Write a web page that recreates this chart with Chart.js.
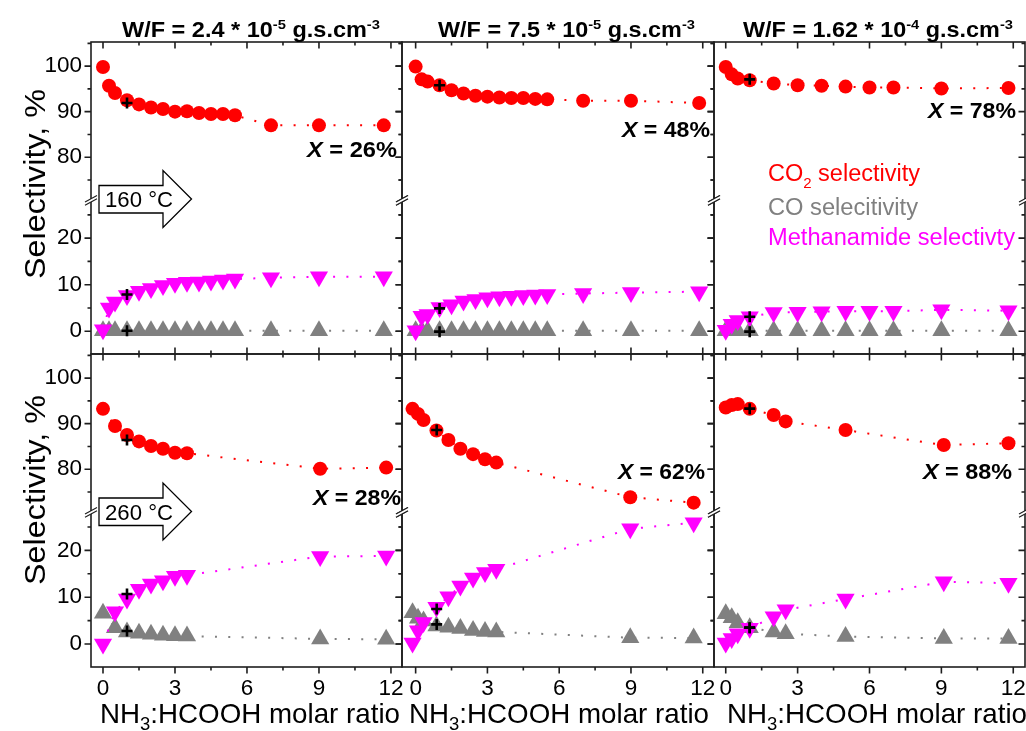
<!DOCTYPE html>
<html><head><meta charset="utf-8">
<script src="https://cdn.jsdelivr.net/npm/chart.js@4.4.1/dist/chart.umd.min.js"></script>
<style>
html,body{margin:0;padding:0;background:#fff;}
#wrap{position:relative;width:1026px;height:731px;overflow:hidden;background:#fff;}
#wrap canvas{position:absolute;}
#ov{position:absolute;left:0;top:0;}
</style></head><body><div id="wrap">
<canvas id="c00"></canvas><canvas id="c01"></canvas><canvas id="c02"></canvas>
<canvas id="c10"></canvas><canvas id="c11"></canvas><canvas id="c12"></canvas>
<svg id="ov" width="1026" height="731" font-family="'Liberation Sans', Arial, sans-serif">
  <text x="122" y="36.5" font-size="21.5" font-weight="bold" textLength="258" lengthAdjust="spacingAndGlyphs">W/F = 2.4 * 10<tspan font-size="13.5" dy="-8">-5</tspan><tspan dy="8"> g.s.cm</tspan><tspan font-size="13.5" dy="-8">-3</tspan></text>
  <text x="438" y="36.5" font-size="21.5" font-weight="bold" textLength="257" lengthAdjust="spacingAndGlyphs">W/F = 7.5 * 10<tspan font-size="13.5" dy="-8">-5</tspan><tspan dy="8"> g.s.cm</tspan><tspan font-size="13.5" dy="-8">-3</tspan></text>
  <text x="743" y="36.5" font-size="21.5" font-weight="bold" textLength="270" lengthAdjust="spacingAndGlyphs">W/F = 1.62 * 10<tspan font-size="13.5" dy="-8">-4</tspan><tspan dy="8"> g.s.cm</tspan><tspan font-size="13.5" dy="-8">-3</tspan></text>

  <text x="307" y="156.7" font-size="22" font-weight="bold" textLength="90" lengthAdjust="spacingAndGlyphs"><tspan font-style="italic">X</tspan> = 26%</text>
  <text x="622" y="136.7" font-size="22" font-weight="bold" textLength="88" lengthAdjust="spacingAndGlyphs"><tspan font-style="italic">X</tspan> = 48%</text>
  <text x="928" y="117.5" font-size="22" font-weight="bold" textLength="88" lengthAdjust="spacingAndGlyphs"><tspan font-style="italic">X</tspan> = 78%</text>
  <text x="313" y="504.5" font-size="22" font-weight="bold" textLength="88" lengthAdjust="spacingAndGlyphs"><tspan font-style="italic">X</tspan> = 28%</text>
  <text x="618" y="478.5" font-size="22" font-weight="bold" textLength="87" lengthAdjust="spacingAndGlyphs"><tspan font-style="italic">X</tspan> = 62%</text>
  <text x="923" y="478.5" font-size="22" font-weight="bold" textLength="89" lengthAdjust="spacingAndGlyphs"><tspan font-style="italic">X</tspan> = 88%</text>

  <text x="768" y="180.5" font-size="23.5" fill="#ff0000" textLength="152" lengthAdjust="spacingAndGlyphs">CO<tspan font-size="15" dy="7">2</tspan><tspan dy="-7"> selectivity</tspan></text>
  <text x="768" y="215" font-size="23.5" fill="#808080" textLength="150" lengthAdjust="spacingAndGlyphs">CO selecitivity</text>
  <text x="768" y="245" font-size="23.5" fill="#ff00ff" textLength="247" lengthAdjust="spacingAndGlyphs">Methanamide selectivty</text>

  <path d="M99,185.5 H163 V170.5 L191.5,199 L163,227.5 V213 H99 Z" fill="#fff" stroke="#000" stroke-width="1.3"/>
  <text x="105" y="207.3" font-size="22.5" textLength="68" lengthAdjust="spacingAndGlyphs">160 °C</text>
  <path d="M99,498 H163 V483 L191.5,511.5 L163,540 V525.5 H99 Z" fill="#fff" stroke="#000" stroke-width="1.3"/>
  <text x="105" y="519.8" font-size="22.5" textLength="68" lengthAdjust="spacingAndGlyphs">260 °C</text>

  <text transform="translate(44.5,184) rotate(-90)" text-anchor="middle" font-size="29.5" textLength="190" lengthAdjust="spacingAndGlyphs">Selectivity, %</text>
  <text transform="translate(44.5,490) rotate(-90)" text-anchor="middle" font-size="29.5" textLength="190" lengthAdjust="spacingAndGlyphs">Selectivity, %</text>

  <text x="100" y="722.5" font-size="28.5" textLength="300" lengthAdjust="spacingAndGlyphs">NH<tspan font-size="19" dy="7">3</tspan><tspan dy="-7">:HCOOH molar ratio</tspan></text>
  <text x="409" y="722.5" font-size="28.5" textLength="300" lengthAdjust="spacingAndGlyphs">NH<tspan font-size="19" dy="7">3</tspan><tspan dy="-7">:HCOOH molar ratio</tspan></text>
  <text x="727" y="722.5" font-size="28.5" textLength="300" lengthAdjust="spacingAndGlyphs">NH<tspan font-size="19" dy="7">3</tspan><tspan dy="-7">:HCOOH molar ratio</tspan></text>
</svg>
</div>
<script>
// ---- tick labels ----
const xTickVals = [0, 3, 6, 9, 12];
const yTickTop = [80, 90, 100];
const yTickBot = [0, 10, 20];

// ---- 160 °C, W/F = 2.4e-5 ----
const ratio160A = [0, 0.25, 0.5, 1, 1.5, 2, 2.5, 3, 3.5, 4, 4.5, 5, 5.5, 7, 9, 11.7];
const co2_160A  = [99.8, 95.7, 94.1, 92.5, 91.6, 90.9, 90.6, 90.0, 90.1, 89.7, 89.5, 89.5, 89.2, 87.0, 87.0, 87.0];
const co160A    = [0.1, 0.1, 0.1, 0.1, 0.1, 0.1, 0.1, 0.1, 0.1, 0.1, 0.1, 0.1, 0.1, 0.1, 0.1, 0.1];
const meth160A  = [0.3, 5.0, 6.3, 7.7, 8.6, 9.2, 9.8, 10.3, 10.5, 10.6, 10.8, 11.0, 11.2, 11.5, 11.7, 11.7];
// ---- 160 °C, W/F = 7.5e-5 ----
const ratio160B = [0, 0.25, 0.5, 1, 1.5, 2, 2.5, 3, 3.5, 4, 4.5, 5, 5.5, 7, 9, 11.85];
const co2_160B  = [99.9, 97.1, 96.6, 95.8, 94.7, 94.0, 93.5, 93.3, 93.1, 93.0, 93.0, 92.8, 92.7, 92.4, 92.4, 91.9];
const co160B    = [0.1, 0.1, 0.1, 0.1, 0.1, 0.1, 0.1, 0.1, 0.1, 0.1, 0.1, 0.1, 0.1, 0.1, 0.1, 0.1];
const meth160B  = [0.1, 3.2, 3.6, 5.1, 5.7, 6.5, 6.8, 7.2, 7.4, 7.5, 7.7, 7.8, 7.9, 8.1, 8.3, 8.5];
// ---- 160 °C, W/F = 1.62e-4 ----
const ratio160C = [0, 0.25, 0.5, 1, 2, 3, 4, 5, 6, 7, 9, 11.8];
const co2_160C  = [99.8, 98.2, 97.3, 96.9, 96.2, 95.8, 95.7, 95.5, 95.3, 95.3, 95.1, 95.2];
const co160C    = [0.1, 0.1, 0.1, 0.1, 0.1, 0.1, 0.1, 0.1, 0.1, 0.1, 0.1, 0.1];
const meth160C  = [0.2, 1.5, 2.3, 3.1, 4.0, 4.1, 4.2, 4.3, 4.3, 4.3, 4.6, 4.4];
// ---- 260 °C, W/F = 2.4e-5 ----
const ratio260A = [0, 0.5, 1, 1.5, 2, 2.5, 3, 3.5, 9.05, 11.8];
const co2_260A  = [93.25, 89.5, 87.5, 86.1, 85.1, 84.5, 83.6, 83.5, 80.1, 80.35];
const co260A    = [6.6, 3.5, 2.6, 2.3, 2.1, 1.9, 1.8, 1.7, 1.1, 1.0];
const meth260A  = [0, 6.9, 9.6, 11.7, 12.8, 13.5, 14.5, 14.7, 18.7, 18.8];
// ---- 260 °C, W/F = 7.5e-5 ----
const ratio260B = [-0.13, 0.1, 0.33, 0.87, 1.37, 1.87, 2.4, 2.9, 3.37, 8.97, 11.62];
const co2_260B  = [93.25, 92.15, 90.8, 88.5, 86.4, 84.5, 83.3, 82.2, 81.45, 73.85, 72.65];
const co260B    = [6.7, 5.5, 4.9, 3.85, 3.6, 3.3, 2.9, 2.7, 2.6, 1.35, 1.3];
const meth260B  = [0.2, 2.85, 4.6, 7.85, 10.1, 12.4, 14.1, 15.3, 16.0, 24.6, 25.9];
// ---- 260 °C, W/F = 1.62e-4 ----
const ratio260C = [0, 0.25, 0.5, 1, 2, 2.5, 5, 9.1, 11.8];
const co2_260C  = [93.55, 94.1, 94.3, 93.25, 91.9, 90.5, 88.6, 85.3, 85.7];
const co260C    = [6.45, 5.6, 4.55, 3.5, 2.6, 2.2, 1.6, 1.2, 1.2];
const meth260C  = [0.2, 1.2, 2.2, 3.35, 5.85, 7.3, 9.6, 13.3, 13.0];
// ---- repeated measurements ("+") per W/F column ----
const crossRatio160 = [1, 1, 1];
const crossCO2_160  = [91.9, 95.8, 97.1];
const crossCO160    = [0.1, -0.1, -0.1];
const crossMeth160  = [7.9, 4.9, 3.1];
const crossRatio260 = [1, 0.88, 1];
const crossCO2_260  = [86.4, 88.6, 93.3];
const crossCO260    = [2.8, 4.2, 3.5];
const crossMeth260  = [10.7, 7.5, 3.5];

// ---- layout ----
const cols = [{L:91, R:402, xmin:-0.5, xmax:12.46}, {L:402, R:714, xmin:-0.57, xmax:12.47}, {L:714, R:1025, xmin:-0.49, xmax:12.49}];
const rows = [{T:42, K:200, B:354}, {T:354, K:512, B:667}];
const ML = 100, MR = 20, MT = 20, MB = 45;
const RED = '#ff0000', GRAY = '#808080', MAG = '#ff00ff';
const tickFont = {family: "'Liberation Sans', Arial, sans-serif", size: 22.5};

const panels = [
  [[ratio160A, co2_160A, co160A, meth160A], [ratio160B, co2_160B, co160B, meth160B], [ratio160C, co2_160C, co160C, meth160C]],
  [[ratio260A, co2_260A, co260A, meth260A], [ratio260B, co2_260B, co260B, meth260B], [ratio260C, co2_260C, co260C, meth260C]]
];
const crosses = [
  [crossRatio160, crossCO2_160, crossCO160, crossMeth160],
  [crossRatio260, crossCO2_260, crossCO260, crossMeth260]
];

const pts = (xs, ys) => xs.map((x, i) => ({x, y: ys[i]}));

const framePlugin = {
  id: 'frame',
  afterDraw(chart) {
    const o = chart.options.plugins.frame;
    const {ctx, chartArea: a, scales} = chart;
    const sx = scales.x, yT = scales.yT, yB = scales.yB;
    const L = a.left, R = a.right, T = a.top, B = a.bottom;
    ctx.save();
    ctx.strokeStyle = '#1e1e1e';
    ctx.lineWidth = 1.6;
    ctx.strokeRect(L, T, R - L, B - T);
    const MAJ = 6.5, MIN = 3.5;
    ctx.beginPath();
    const seg = (x1, y1, x2, y2) => { ctx.moveTo(x1, y1); ctx.lineTo(x2, y2); };
    const bdir = o.row === 1 ? 1 : -1;
    xTickVals.forEach((v, i) => {
      const p = sx.getPixelForValue(v);
      seg(p, T, p, T + MAJ);
      seg(p, B, p, B + bdir * MAJ);
      if (i < xTickVals.length - 1) {
        const m = sx.getPixelForValue((v + xTickVals[i + 1]) / 2);
        seg(m, T, m, T + MIN);
        seg(m, B, m, B + bdir * MIN);
      }
    });
    [[yT, yTickTop], [yB, yTickBot]].forEach(([sc, vals]) => {
      const step = vals[1] - vals[0];
      vals.forEach(v => { const p = sc.getPixelForValue(v); seg(L, p, L - MAJ, p); seg(R, p, R - MAJ, p); });
      [vals[0] - step / 2, ...vals.map(v => v + step / 2)].forEach(v => {
        if (v < sc.min || v > sc.max) return;
        const p = sc.getPixelForValue(v); seg(L, p, L - MIN, p); seg(R, p, R - MIN, p);
      });
    });
    ctx.stroke();
    // axis break marks
    const by = yT.bottom;
    [L, R].forEach(ax => {
      ctx.fillStyle = '#fff';
      ctx.beginPath();
      ctx.moveTo(ax - 6, by + 2); ctx.lineTo(ax + 6, by - 4.5);
      ctx.lineTo(ax + 6, by - 1.3); ctx.lineTo(ax - 6, by + 5.2); ctx.closePath();
      ctx.fill();
      ctx.lineWidth = 1.1;
      ctx.beginPath();
      seg(ax - 6, by + 2, ax + 6, by - 4.5);
      seg(ax - 6, by + 5.2, ax + 6, by - 1.3);
      ctx.stroke();
    });
    ctx.restore();
  }
};

function series(data, axis, color, style, radius, rot) {
  return {
    data, yAxisID: axis, showLine: true, borderColor: color, backgroundColor: color,
    borderWidth: 2, borderDash: [2, 11.3], tension: 0,
    pointStyle: style, pointRadius: radius, pointHoverRadius: radius, rotation: rot || 0,
    pointBackgroundColor: color, pointBorderColor: color, pointBorderWidth: 0
  };
}
function crossSet(data, axis) {
  return {
    data, yAxisID: axis, showLine: false, pointStyle: 'cross', pointRadius: 5.5, pointHoverRadius: 5.5,
    pointBorderColor: '#000', pointBorderWidth: 2.6, borderColor: '#000', backgroundColor: '#000'
  };
}

for (let r = 0; r < 2; r++) {
  for (let c = 0; c < 3; c++) {
    const col = cols[c], row = rows[r];
    const cv = document.getElementById('c' + r + c);
    const w = (col.R - col.L) + ML + MR, h = (row.B - row.T) + MT + MB;
    cv.width = w; cv.height = h;
    cv.style.left = (col.L - ML) + 'px';
    cv.style.top = (row.T - MT) + 'px';
    const [xs, co2, co, meth] = panels[r][c];
    const cr = crosses[r];
    const yCommon = (vals, showLbl, wgt, sw, mn, mx) => ({
      type: 'linear', position: 'left', stack: 'sel', stackWeight: sw, weight: wgt,
      min: mn, max: mx,
      grid: {display: false, drawTicks: false}, border: {display: false},
      afterBuildTicks: s => { s.ticks = vals.map(v => ({value: v})); },
      afterFit: s => { s.width = ML; s.paddingTop = 0; s.paddingBottom = 0; },
      ticks: {display: showLbl, font: tickFont, color: '#000', padding: 9}
    });
    new Chart(cv, {
      type: 'line',
      data: {
        datasets: [
          crossSet([{x: cr[0][c], y: cr[1][c]}], 'yT'),
          crossSet([{x: cr[0][c], y: cr[3][c]}, {x: cr[0][c], y: cr[2][c]}], 'yB'),
          series(pts(xs, co2), 'yT', RED, 'circle', 7),
          series(pts(xs, meth), 'yB', MAG, 'triangle', 10.5, 180),
          series(pts(xs, co), 'yB', GRAY, 'triangle', 10.5, 0)
        ]
      },
      options: {
        responsive: false, animation: false, events: [],
        layout: {padding: {left: 0, right: MR, top: MT, bottom: 0}, autoPadding: false},
        plugins: {legend: {display: false}, tooltip: {enabled: false}, frame: {row: r, col: c}},
        scales: {
          x: {
            type: 'linear', position: 'bottom', min: col.xmin, max: col.xmax,
            grid: {display: false, drawTicks: false}, border: {display: false},
            afterBuildTicks: s => { s.ticks = xTickVals.map(v => ({value: v})); },
            afterFit: s => { s.height = MB; s.paddingLeft = 0; s.paddingRight = 0; },
            ticks: {display: r === 1, font: tickFont, color: '#000', padding: 8, maxRotation: 0, autoSkip: false}
          },
          yT: yCommon(yTickTop, c === 0, 1, row.K - row.T, 70.6, 105.3),
          yB: yCommon(yTickBot, c === 0, 0, row.B - row.K, -4.9, 28.2)
        }
      },
      plugins: [framePlugin]
    });
  }
}
</script>
</body></html>
